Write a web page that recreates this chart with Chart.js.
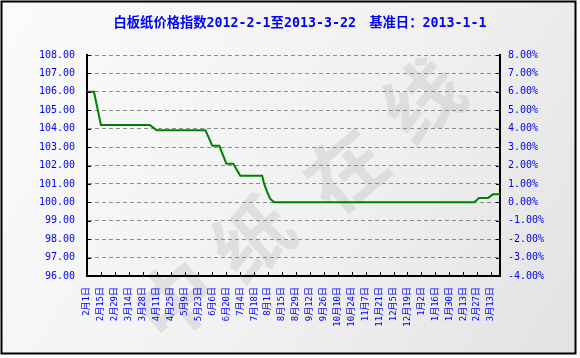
<!DOCTYPE html>
<html><head><meta charset="utf-8">
<script src="https://cdn.jsdelivr.net/npm/chart.js@4"></script>
<style>html,body{margin:0;padding:0;background:#fff}canvas{display:block}</style>
</head><body>
<canvas id="c" width="580" height="358"></canvas>
<script>
// ---- data ----
const titleText = '白板纸价格指数2012-2-1至2013-3-22\u3000基准日：2013-1-1';
const tickLabels = ['2月1日','2月15日','2月29日','3月14日','3月28日','4月11日','4月25日','5月9日','5月23日','6月6日',
  '6月20日','7月4日','7月18日','8月1日','8月15日','8月29日','9月12日','9月26日','10月10日','10月24日',
  '11月7日','11月21日','12月5日','12月19日','1月2日','1月16日','1月30日','2月13日','2月27日','3月13日'];
const pointDates = ['2012-02-01','2012-02-08','2012-02-15','2012-04-04','2012-04-11','2012-05-30','2012-06-06',
  '2012-06-13','2012-06-20','2012-06-27','2012-07-04','2012-07-26','2012-07-28','2012-07-31','2012-08-03',
  '2012-08-07','2013-02-24','2013-03-01','2013-03-10','2013-03-15','2013-03-22'];
const indexValues = [106.0,106.0,104.2,104.2,103.92,103.92,103.07,103.07,102.1,102.1,101.45,101.45,101.0,100.57,
  100.2,100.0,100.0,100.24,100.24,100.44,100.44];
const leftTicks = {min:96, max:108, step:1};
const rightTicks = {min:-4, max:8, step:1};
const watermarkText = '中纸在线';

// ---- helpers ----
const startDate = Date.UTC(2012,1,1);
const dayOf = s => { const [y,m,d] = s.split('-').map(Number); return Math.round((Date.UTC(y,m-1,d)-startDate)/86400000); };
const lastDay = dayOf(pointDates[pointDates.length-1]);
const tickDays = tickLabels.map((_,i)=>i*14);
const points = pointDates.map((d,i)=>({x:dayOf(d), y:indexValues[i]}));

const BLUE = '#0000ff';
const monoFont = '"DejaVu Sans Mono", "Noto Sans CJK SC", monospace';

const decor = {
  id:'decor',
  beforeDraw(chart){
    const ctx = chart.ctx;
    ctx.save();
    const g = ctx.createLinearGradient(0,0,580,358);
    g.addColorStop(0,'#fbfbfb'); g.addColorStop(0.55,'#f1f1f1'); g.addColorStop(1,'#e2e2e2');
    ctx.fillStyle = g;
    ctx.fillRect(2,2,574,352);
    // watermark
    ctx.fillStyle = 'rgba(150,150,150,0.20)';
    ctx.font = 'bold 78px "Noto Sans CJK SC"';
    ctx.textAlign = 'center'; ctx.textBaseline = 'middle';
    const centers = [[175,300],[252,238],[345,170],[422,100]];
    [...watermarkText].forEach((ch,i)=>{
      ctx.save(); ctx.translate(centers[i][0], centers[i][1]); ctx.rotate(-40*Math.PI/180);
      ctx.fillText(ch,0,0); ctx.restore();
    });
    ctx.restore();
  },
  afterDraw(chart){
    const {ctx, chartArea:a, scales} = chart;
    ctx.save();
    // inner tick marks
    ctx.strokeStyle = '#000'; ctx.lineWidth = 1; ctx.beginPath();
    scales.y.ticks.forEach(t=>{ const y = Math.round(scales.y.getPixelForValue(t.value))+0.5; ctx.moveTo(a.left, y); ctx.lineTo(a.left+4, y); });
    scales.y2.ticks.forEach(t=>{ const y = Math.round(scales.y2.getPixelForValue(t.value))+0.5; ctx.moveTo(a.right-4, y); ctx.lineTo(a.right, y); });
    scales.x.ticks.forEach(t=>{ const x = Math.round(scales.x.getPixelForValue(t.value))+0.5; ctx.moveTo(x, a.bottom-4); ctx.lineTo(x, a.bottom); });
    ctx.stroke();
    // title
    ctx.fillStyle = BLUE;
    ctx.font = 'bold 13.3px "DejaVu Sans Mono", "Noto Sans CJK SC"';
    ctx.textAlign = 'center'; ctx.textBaseline = 'middle';
    ctx.fillText(titleText, 300, 24);
    // outer frame
    ctx.strokeStyle = '#000'; ctx.lineWidth = 2;
    ctx.strokeRect(1.5,1.5,574,352);
    ctx.restore();
  }
};

new Chart(document.getElementById('c'), {
  type:'line',
  data:{ datasets:[{ data: points, borderColor:'#008000', borderWidth:2, pointRadius:0, tension:0, fill:false, xAxisID:'x', yAxisID:'y' }] },
  options:{
    responsive:false, animation:false,
    layout:{ padding:{ top:55, left:0, right:0, bottom:0 } },
    plugins:{ legend:{display:false}, tooltip:{enabled:false}, title:{display:false} },
    scales:{
      x:{ type:'linear', position:'bottom', min:0, max:lastDay,
        afterBuildTicks: s => { s.ticks = tickDays.map(v=>({value:v})); },
        afterFit: s => { s.height = 82; },
        grid:{ display:false, drawTicks:false },
        border:{ display:true, color:'#000', width:2 },
        ticks:{ autoSkip:false, maxRotation:90, minRotation:90, padding:11, color:BLUE,
          font:{ family:monoFont, size:9 }, callback:(v,i)=>tickLabels[i] }
      },
      y:{ position:'left', min:leftTicks.min, max:leftTicks.max,
        afterFit: s => { s.width = 87; },
        grid:{ drawTicks:false, lineWidth:1, color: c => (c.tick && c.tick.value===leftTicks.min) ? 'rgba(0,0,0,0)' : '#8c8c8c' },
        border:{ display:true, color:'#000', width:2, dash:[4,3] },
        ticks:{ stepSize:leftTicks.step, padding:12, color:BLUE, font:{ family:monoFont, size:10 }, callback:v=>v.toFixed(2) }
      },
      y2:{ position:'right', min:rightTicks.min, max:rightTicks.max,
        afterFit: s => { s.width = 80; },
        grid:{ display:false, drawTicks:false },
        border:{ display:true, color:'#000', width:2 },
        ticks:{ stepSize:rightTicks.step, padding:8, color:BLUE, font:{ family:monoFont, size:10 }, callback:v=>v.toFixed(2)+'%' }
      }
    }
  },
  plugins:[decor]
});
</script>
</body></html>
